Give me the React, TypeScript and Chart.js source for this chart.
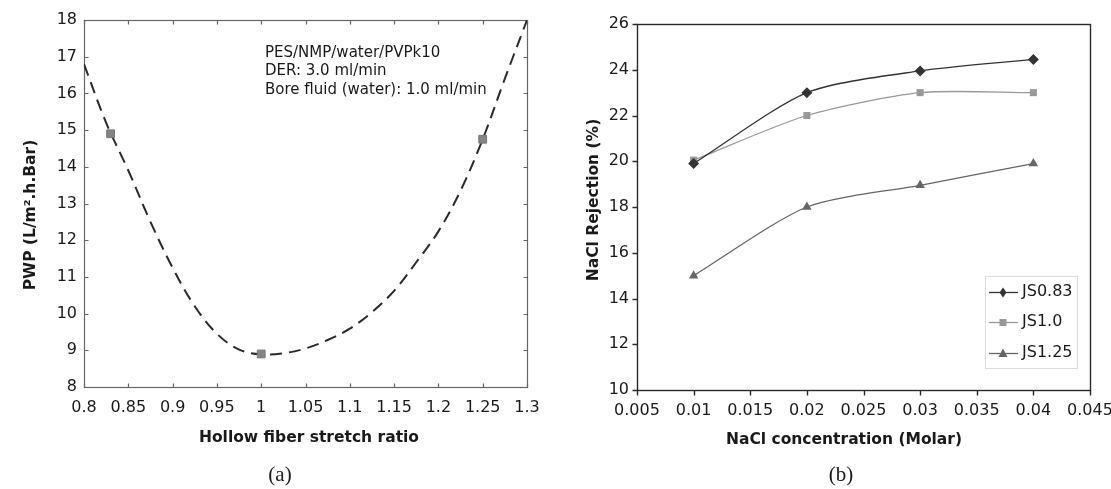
import React, { useEffect, useRef } from 'react';
import { Chart, registerables } from 'chart.js';

Chart.register(...registerables);

const SANS = '"DejaVu Sans", sans-serif';
const SERIF = '"Liberation Serif", "DejaVu Serif", serif';

// ---------- Panel (a): PWP vs hollow fiber stretch ratio ----------
const stretchRatio = [0.83, 1.0, 1.25];
const pwpMeasured = [14.9, 8.9, 14.75];
const fitStretch = [0.8, 0.825, 0.85, 0.875, 0.9, 0.925, 0.95, 0.975, 1.0, 1.025, 1.05, 1.075, 1.1, 1.125, 1.15, 1.175, 1.2, 1.225, 1.25, 1.275, 1.3];
const fitPwp = [16.8, 15.2, 13.9, 12.5, 11.25, 10.2, 9.45, 9.02, 8.89, 8.92, 9.05, 9.28, 9.59, 10.04, 10.62, 11.4, 12.24, 13.35, 14.75, 16.4, 18.0];
const xTicksA = [0.8, 0.85, 0.9, 0.95, 1.0, 1.05, 1.1, 1.15, 1.2, 1.25, 1.3];
const xTickLabelsA = ['0.8', '0.85', '0.9', '0.95', '1', '1.05', '1.1', '1.15', '1.2', '1.25', '1.3'];
const yTicksA = [8, 9, 10, 11, 12, 13, 14, 15, 16, 17, 18];
const annotationA = ['PES/NMP/water/PVPk10', 'DER: 3.0 ml/min', 'Bore fluid (water): 1.0 ml/min'];
const xTitleA = 'Hollow fiber stretch ratio';
const yTitleA = 'PWP (L/m².h.Bar)';

// ---------- Panel (b): NaCl rejection vs concentration ----------
const naclConc = [0.01, 0.02, 0.03, 0.04];
const seriesNames = ['JS0.83', 'JS1.0', 'JS1.25'];
const js083 = [19.9, 23.0, 23.95, 24.45];
const js10 = [20.05, 22.0, 23.0, 23.0];
const js125 = [15.0, 18.0, 18.95, 19.9];
const xTicksB = [0.005, 0.01, 0.015, 0.02, 0.025, 0.03, 0.035, 0.04, 0.045];
const xTickLabelsB = ['0.005', '0.01', '0.015', '0.02', '0.025', '0.03', '0.035', '0.04', '0.045'];
const yTicksB = [10, 12, 14, 16, 18, 20, 22, 24, 26];
const xTitleB = 'NaCl concentration (Molar)';
const yTitleB = 'NaCl Rejection (%)';

const seriesColors = ['#333333', '#999999', '#666666'];
const seriesMarkers = ['rectRot', 'rect', 'triangle'];

const TEXT = '#1a1a1a';

function drawMarker(ctx: CanvasRenderingContext2D, style: string, x: number, y: number, color: string) {
  ctx.save();
  ctx.fillStyle = color;
  ctx.beginPath();
  if (style === 'rectRot') {
    ctx.moveTo(x, y - 5);
    ctx.lineTo(x + 3.5, y);
    ctx.lineTo(x, y + 5);
    ctx.lineTo(x - 3.5, y);
  } else if (style === 'rect') {
    ctx.rect(x - 3.5, y - 3.5, 7, 7);
  } else {
    ctx.moveTo(x, y - 5);
    ctx.lineTo(x + 4.5, y + 3.5);
    ctx.lineTo(x - 4.5, y + 3.5);
  }
  ctx.closePath();
  ctx.fill();
  ctx.restore();
}

function drawTitles(
  ctx: CanvasRenderingContext2D,
  xTitle: string,
  xPos: [number, number],
  yTitle: string,
  yPos: [number, number],
  tag: string,
  tagPos: [number, number]
) {
  ctx.save();
  ctx.fillStyle = TEXT;
  ctx.font = `bold 15.5px ${SANS}`;
  ctx.textAlign = 'center';
  ctx.textBaseline = 'middle';
  ctx.fillText(xTitle, xPos[0], xPos[1]);
  ctx.save();
  ctx.translate(yPos[0], yPos[1]);
  ctx.rotate(-Math.PI / 2);
  ctx.fillText(yTitle, 0, 0);
  ctx.restore();
  ctx.font = `21px ${SERIF}`;
  ctx.fillText(tag, tagPos[0], tagPos[1]);
  ctx.restore();
}

const fixedTicks = (values: number[]) => (s: any) => {
  s.ticks = values.map((v) => ({ value: v }));
};

const PanelA: React.FC = () => {
  const ref = useRef<HTMLCanvasElement | null>(null);
  useEffect(() => {
    if (!ref.current) return;
    const framePlugin = {
      id: 'frameA',
      beforeDatasetsDraw(chart: any) {
        const { ctx, chartArea: a, scales } = chart;
        const L = Math.round(a.left) + 0.5;
        const R = Math.round(a.right) + 0.5;
        const T = Math.round(a.top) + 0.5;
        const B = Math.round(a.bottom) + 0.5;
        ctx.save();
        ctx.strokeStyle = '#666';
        ctx.lineWidth = 1.2;
        ctx.strokeRect(L, T, R - L, B - T);
        ctx.beginPath();
        scales.x.ticks.forEach((t: any) => {
          const px = Math.round(scales.x.getPixelForValue(t.value)) + 0.5;
          ctx.moveTo(px, B);
          ctx.lineTo(px, B - 4);
          ctx.moveTo(px, T);
          ctx.lineTo(px, T + 4);
        });
        scales.y.ticks.forEach((t: any) => {
          const py = Math.round(scales.y.getPixelForValue(t.value)) + 0.5;
          ctx.moveTo(L, py);
          ctx.lineTo(L + 4, py);
          ctx.moveTo(R, py);
          ctx.lineTo(R - 4, py);
        });
        ctx.stroke();
        ctx.restore();
      },
      afterDraw(chart: any) {
        const { ctx } = chart;
        ctx.save();
        ctx.fillStyle = TEXT;
        ctx.font = `15px ${SANS}`;
        ctx.textAlign = 'left';
        ctx.textBaseline = 'alphabetic';
        annotationA.forEach((line, i) => ctx.fillText(line, 265, 57 + i * 18.3));
        ctx.restore();
        drawTitles(ctx, xTitleA, [309, 438], yTitleA, [31, 215], '(a)', [280, 475]);
      },
    };
    const chart = new Chart(ref.current, {
      type: 'line',
      data: {
        datasets: [
          {
            label: 'Measured',
            data: stretchRatio.map((x, i) => ({ x, y: pwpMeasured[i] })),
            showLine: false,
            pointStyle: 'rect',
            pointRadius: 5.5,
            backgroundColor: '#858585',
            borderColor: '#777',
            borderWidth: 1,
          },
          {
            label: 'Fit',
            data: fitStretch.map((x, i) => ({ x, y: fitPwp[i] })),
            borderColor: '#2a2a2a',
            borderWidth: 2,
            borderDash: [12, 7],
            pointRadius: 0,
            tension: 0.35,
            fill: false,
          },
        ],
      },
      options: {
        animation: false,
        responsive: false,
        maintainAspectRatio: false,
        layout: { padding: { left: 0, top: 20, right: 28, bottom: 0 } },
        plugins: { legend: { display: false }, tooltip: { enabled: false } },
        scales: {
          x: {
            type: 'linear',
            min: 0.8,
            max: 1.3,
            afterBuildTicks: fixedTicks(xTicksA),
            afterFit: (s: any) => { s.height = 102; },
            grid: { display: false, drawTicks: false },
            border: { display: false },
            ticks: {
              autoSkip: false,
              maxRotation: 0,
              padding: 11,
              color: TEXT,
              font: { family: SANS, size: 16 },
              callback: (_v: any, i: number) => xTickLabelsA[i],
            },
            title: { display: false },
          },
          y: {
            type: 'linear',
            min: 8,
            max: 18,
            afterBuildTicks: fixedTicks(yTicksA),
            afterFit: (s: any) => { s.width = 84; },
            grid: { display: false, drawTicks: false },
            border: { display: false },
            ticks: {
              autoSkip: false,
              padding: 7,
              color: TEXT,
              font: { family: SANS, size: 16 },
              callback: (v: any) => String(v),
            },
            title: { display: false },
          },
        },
      },
      plugins: [framePlugin],
    } as any);
    return () => chart.destroy();
  }, []);
  return (
    <canvas
      ref={ref}
      width={555}
      height={489}
      style={{ position: 'absolute', left: 0, top: 0, display: 'block' }}
    />
  );
};

const PanelB: React.FC = () => {
  const ref = useRef<HTMLCanvasElement | null>(null);
  useEffect(() => {
    if (!ref.current) return;
    const framePlugin = {
      id: 'frameB',
      beforeDatasetsDraw(chart: any) {
        const { ctx, chartArea: a, scales } = chart;
        const L = Math.round(a.left) + 0.5;
        const R = Math.round(a.right) + 0.5;
        const T = Math.round(a.top) + 0.5;
        const B = Math.round(a.bottom) + 0.5;
        ctx.save();
        ctx.strokeStyle = '#2a2a2a';
        ctx.lineWidth = 1.4;
        ctx.strokeRect(L, T, R - L, B - T);
        ctx.beginPath();
        scales.x.ticks.forEach((t: any) => {
          const px = Math.round(scales.x.getPixelForValue(t.value)) + 0.5;
          ctx.moveTo(px, B);
          ctx.lineTo(px, B + 5);
        });
        scales.y.ticks.forEach((t: any) => {
          const py = Math.round(scales.y.getPixelForValue(t.value)) + 0.5;
          ctx.moveTo(L, py);
          ctx.lineTo(L - 5, py);
        });
        ctx.stroke();
        ctx.restore();
      },
      afterDraw(chart: any) {
        const { ctx } = chart;
        ctx.save();
        ctx.strokeStyle = '#dcdcdc';
        ctx.lineWidth = 1;
        ctx.strokeRect(430.5, 276.5, 92, 92);
        const rows = [292, 322, 353];
        seriesNames.forEach((name, i) => {
          const y = rows[i];
          ctx.strokeStyle = seriesColors[i];
          ctx.lineWidth = 1.3;
          ctx.beginPath();
          ctx.moveTo(434, y + 0.5);
          ctx.lineTo(463, y + 0.5);
          ctx.stroke();
          drawMarker(ctx, seriesMarkers[i], 448, y + 0.5, seriesColors[i]);
          ctx.fillStyle = TEXT;
          ctx.font = `16px ${SANS}`;
          ctx.textAlign = 'left';
          ctx.textBaseline = 'middle';
          ctx.fillText(name, 467, y);
        });
        ctx.restore();
        drawTitles(ctx, xTitleB, [289, 440], yTitleB, [39, 200], '(b)', [286, 475]);
      },
    };
    const series = [js083, js10, js125];
    const chart = new Chart(ref.current, {
      type: 'line',
      data: {
        datasets: series.map((vals, k) => ({
          label: seriesNames[k],
          data: naclConc.map((x, i) => ({ x, y: vals[i] })),
          borderColor: seriesColors[k],
          backgroundColor: seriesColors[k],
          borderWidth: 1.3,
          pointStyle: seriesMarkers[k],
          pointRadius: seriesMarkers[k] === 'rect' ? 5 : 5.5,
          pointBorderWidth: 0,
          tension: 0.25,
          fill: false,
        })),
      },
      options: {
        animation: false,
        responsive: false,
        maintainAspectRatio: false,
        layout: { padding: { left: 0, top: 24, right: 45, bottom: 0 } },
        plugins: { legend: { display: false }, tooltip: { enabled: false } },
        scales: {
          x: {
            type: 'linear',
            min: 0.005,
            max: 0.045,
            afterBuildTicks: fixedTicks(xTicksB),
            afterFit: (s: any) => { s.height = 99; },
            grid: { display: false, drawTicks: false },
            border: { display: false },
            ticks: {
              autoSkip: false,
              maxRotation: 0,
              padding: 11,
              color: TEXT,
              font: { family: SANS, size: 16 },
              callback: (_v: any, i: number) => xTickLabelsB[i],
            },
            title: { display: false },
          },
          y: {
            type: 'linear',
            min: 10,
            max: 26,
            afterBuildTicks: fixedTicks(yTicksB),
            afterFit: (s: any) => { s.width = 82; },
            grid: { display: false, drawTicks: false },
            border: { display: false },
            ticks: {
              autoSkip: false,
              padding: 8,
              color: TEXT,
              font: { family: SANS, size: 16 },
              callback: (v: any) => String(v),
            },
            title: { display: false },
          },
        },
      },
      plugins: [framePlugin],
    } as any);
    return () => chart.destroy();
  }, []);
  return (
    <canvas
      ref={ref}
      width={580}
      height={489}
      style={{ position: 'absolute', left: 555, top: 0, display: 'block' }}
    />
  );
};

export default function App() {
  return (
    <div
      style={{
        position: 'absolute',
        left: 0,
        top: 0,
        width: 1111,
        height: 489,
        overflow: 'hidden',
        background: '#ffffff',
      }}
    >
      <PanelA />
      <PanelB />
    </div>
  );
}
